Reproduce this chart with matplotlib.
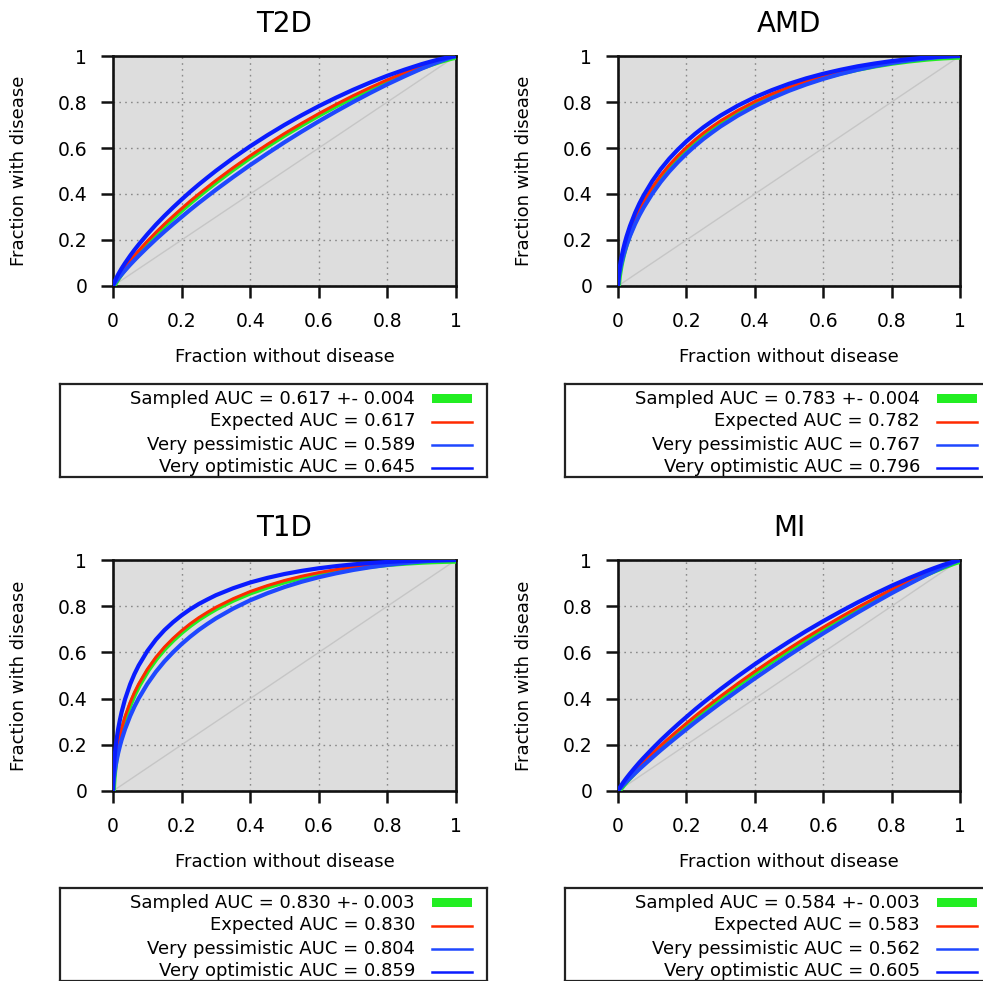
import matplotlib
matplotlib.use('Agg')
import matplotlib.pyplot as plt
from matplotlib import transforms

plt.rcParams['font.family'] = ['DejaVu Sans']

# ---- data ----
fpr = [0, 0.0005, 0.001, 0.002, 0.003, 0.005, 0.0075, 0.01, 0.015, 0.02, 0.025,
       0.035, 0.05, 0.0625, 0.075, 0.1, 0.125, 0.15, 0.175, 0.2, 0.225, 0.25, 0.275, 0.3,
       0.35, 0.4, 0.45, 0.5, 0.55, 0.6, 0.65, 0.7, 0.75, 0.8, 0.85, 0.9,
       0.925, 0.95, 0.98, 0.99, 1.0]

titles = ['T2D', 'AMD', 'T1D', 'MI']

t2d_pess = [0, 0.0015, 0.0028, 0.0052, 0.0076, 0.0120, 0.0173, 0.0223, 0.0322, 0.0413, 0.0505,
            0.0676, 0.0925, 0.1121, 0.1312, 0.1678, 0.2030, 0.2366, 0.2688, 0.3001, 0.3312, 0.3611, 0.3898, 0.4184,
            0.4733, 0.5259, 0.5761, 0.6248, 0.6713, 0.7160, 0.7589, 0.8001, 0.8393, 0.8770, 0.9119, 0.9452,
            0.9604, 0.9752, 0.9912, 0.9959, 1.0]
t2d_exp = [0, 0.0021, 0.0038, 0.0070, 0.0100, 0.0155, 0.0222, 0.0283, 0.0403, 0.0513, 0.0620,
           0.0820, 0.1103, 0.1328, 0.1539, 0.1947, 0.2329, 0.2691, 0.3034, 0.3365, 0.3690, 0.3997, 0.4294, 0.4586,
           0.5139, 0.5663, 0.6156, 0.6628, 0.7072, 0.7495, 0.7895, 0.8274, 0.8629, 0.8965, 0.9271, 0.9556,
           0.9684, 0.9805, 0.9933, 0.9970, 1.0]
t2d_opt = [0, 0.0029, 0.0052, 0.0094, 0.0132, 0.0202, 0.0284, 0.0359, 0.0503, 0.0633, 0.0760,
           0.0992, 0.1316, 0.1568, 0.1804, 0.2248, 0.2665, 0.3050, 0.3413, 0.3760, 0.4095, 0.4412, 0.4713, 0.5008,
           0.5560, 0.6076, 0.6554, 0.7005, 0.7425, 0.7820, 0.8187, 0.8531, 0.8849, 0.9143, 0.9406, 0.9647,
           0.9752, 0.9850, 0.9951, 0.9978, 1.0]

amd_pess = [0, 0.0120, 0.0199, 0.0325, 0.0431, 0.0612, 0.0806, 0.0976, 0.1276, 0.1532, 0.1767,
            0.2174, 0.2696, 0.3075, 0.3413, 0.4009, 0.4527, 0.4980, 0.5382, 0.5750, 0.6087, 0.6395, 0.6673, 0.6939,
            0.7406, 0.7817, 0.8172, 0.8487, 0.8761, 0.9004, 0.9215, 0.9400, 0.9559, 0.9695, 0.9805, 0.9896,
            0.9932, 0.9963, 0.9990, 0.9996, 1.0]
amd_exp = [0, 0.0143, 0.0234, 0.0378, 0.0500, 0.0701, 0.0918, 0.1103, 0.1428, 0.1703, 0.1955,
           0.2386, 0.2932, 0.3327, 0.3673, 0.4282, 0.4805, 0.5259, 0.5659, 0.6022, 0.6352, 0.6653, 0.6925, 0.7180,
           0.7629, 0.8018, 0.8350, 0.8646, 0.8899, 0.9121, 0.9312, 0.9479, 0.9619, 0.9740, 0.9836, 0.9914,
           0.9944, 0.9970, 0.9992, 0.9997, 1.0]
amd_opt = [0, 0.0171, 0.0276, 0.0439, 0.0576, 0.0800, 0.1039, 0.1240, 0.1589, 0.1886, 0.2152,
           0.2608, 0.3178, 0.3585, 0.3940, 0.4558, 0.5084, 0.5537, 0.5932, 0.6289, 0.6612, 0.6904, 0.7165, 0.7412,
           0.7839, 0.8207, 0.8517, 0.8792, 0.9027, 0.9228, 0.9399, 0.9550, 0.9673, 0.9779, 0.9863, 0.9929,
           0.9955, 0.9976, 0.9994, 0.9998, 1.0]

t1d_pess = [0, 0.0178, 0.0287, 0.0457, 0.0598, 0.0829, 0.1074, 0.1280, 0.1637, 0.1938, 0.2209,
            0.2670, 0.3246, 0.3656, 0.4013, 0.4633, 0.5160, 0.5612, 0.6005, 0.6361, 0.6680, 0.6971, 0.7230, 0.7473,
            0.7895, 0.8256, 0.8561, 0.8830, 0.9058, 0.9255, 0.9422, 0.9567, 0.9687, 0.9789, 0.9869, 0.9933,
            0.9957, 0.9977, 0.9994, 0.9998, 1.0]
t1d_exp = [0, 0.0262, 0.0410, 0.0631, 0.0809, 0.1099, 0.1396, 0.1643, 0.2060, 0.2404, 0.2707,
           0.3217, 0.3836, 0.4267, 0.4637, 0.5267, 0.5789, 0.6229, 0.6605, 0.6939, 0.7237, 0.7502, 0.7734, 0.7953,
           0.8322, 0.8635, 0.8891, 0.9113, 0.9297, 0.9454, 0.9584, 0.9695, 0.9784, 0.9858, 0.9914, 0.9957,
           0.9974, 0.9986, 0.9997, 0.9999, 1.0]
t1d_opt = [0, 0.0410, 0.0620, 0.0921, 0.1154, 0.1525, 0.1891, 0.2189, 0.2678, 0.3071, 0.3410,
           0.3967, 0.4622, 0.5064, 0.5438, 0.6056, 0.6554, 0.6964, 0.7306, 0.7605, 0.7866, 0.8095, 0.8291, 0.8476,
           0.8777, 0.9027, 0.9226, 0.9394, 0.9530, 0.9643, 0.9734, 0.9810, 0.9869, 0.9916, 0.9951, 0.9977,
           0.9986, 0.9993, 0.9998, 0.9999, 1.0]

mi_pess = [0, 0.0011, 0.0021, 0.0039, 0.0058, 0.0093, 0.0136, 0.0176, 0.0258, 0.0334, 0.0412,
           0.0558, 0.0772, 0.0947, 0.1114, 0.1444, 0.1767, 0.2075, 0.2377, 0.2673, 0.2969, 0.3253, 0.3532, 0.3809,
           0.4349, 0.4872, 0.5378, 0.5875, 0.6355, 0.6822, 0.7277, 0.7719, 0.8146, 0.8561, 0.8953, 0.9336,
           0.9514, 0.9690, 0.9885, 0.9945, 1.0]
mi_exp = [0, 0.0014, 0.0026, 0.0049, 0.0072, 0.0113, 0.0165, 0.0212, 0.0307, 0.0395, 0.0484,
          0.0649, 0.0888, 0.1083, 0.1265, 0.1623, 0.1971, 0.2300, 0.2620, 0.2929, 0.3237, 0.3531, 0.3817, 0.4102,
          0.4649, 0.5175, 0.5678, 0.6168, 0.6637, 0.7088, 0.7522, 0.7942, 0.8340, 0.8726, 0.9085, 0.9428,
          0.9586, 0.9739, 0.9906, 0.9956, 1.0]
mi_opt = [0, 0.0018, 0.0033, 0.0062, 0.0089, 0.0139, 0.0200, 0.0256, 0.0364, 0.0467, 0.0567,
          0.0755, 0.1022, 0.1237, 0.1437, 0.1825, 0.2197, 0.2546, 0.2883, 0.3206, 0.3525, 0.3829, 0.4122, 0.4412,
          0.4964, 0.5489, 0.5987, 0.6465, 0.6922, 0.7353, 0.7764, 0.8159, 0.8531, 0.8884, 0.9209, 0.9513,
          0.9652, 0.9784, 0.9925, 0.9966, 1.0]

pess_curves = [t2d_pess, amd_pess, t1d_pess, mi_pess]
exp_curves = [t2d_exp, amd_exp, t1d_exp, mi_exp]
opt_curves = [t2d_opt, amd_opt, t1d_opt, mi_opt]

sampled_auc = ['0.617 +- 0.004', '0.783 +- 0.004', '0.830 +- 0.003', '0.584 +- 0.003']
expected_auc = ['0.617', '0.782', '0.830', '0.583']
pess_auc = ['0.589', '0.767', '0.804', '0.562']
opt_auc = ['0.645', '0.796', '0.859', '0.605']

ticks = [0, 0.2, 0.4, 0.6, 0.8, 1.0]
tick_labels = ['0', '0.2', '0.4', '0.6', '0.8', '1']

# ---- styling / layout ----
W, H = 983, 981
DPI = 100
GREEN = '#22ee22'
RED = '#ff2a00'
BLUE_P = '#1f48ff'
BLUE_O = '#0a1cff'

fig = plt.figure(figsize=(W / DPI, H / DPI), dpi=DPI)
fig.patch.set_facecolor('white')


def rect(l, t, r, b):
    return [l / W, 1 - b / H, (r - l) / W, (b - t) / H]


panels = [(113, 56, 456, 286), (618, 56, 960, 286), (113, 560, 456, 791), (618, 560, 960, 791)]
legends = [(60, 384, 487, 477), (565, 384, 992, 477), (60, 888, 487, 981), (565, 888, 992, 981)]

for i in range(4):
    ax = fig.add_axes(rect(*panels[i]))
    ax.set_facecolor('#dddddd')
    ax.set_xlim(0, 1)
    ax.set_ylim(0, 1)
    ax.set_xticks(ticks)
    ax.set_yticks(ticks)
    ax.set_xticklabels(tick_labels)
    ax.set_yticklabels(tick_labels)
    ax.tick_params(direction='out', length=8.5, width=1.8, labelsize=13.5, pad=10, color='#111111')
    for s in ax.spines.values():
        s.set_linewidth(1.9)
        s.set_color('#111111')
    ax.grid(True, color='#8a8a8a', linestyle=(0, (1.2, 3.0)), linewidth=1.0)
    ax.set_axisbelow(True)
    ax.plot([0, 1], [0, 1], color='#c6c6c6', lw=1.0, zorder=2)

    off = ax.transData + transforms.ScaledTranslation(0.6 / DPI, -1.4 / DPI, fig.dpi_scale_trans)
    ax.plot(fpr, exp_curves[i], color=GREEN, lw=3.4, transform=off, zorder=3,
            solid_capstyle='round', solid_joinstyle='round')
    ax.plot(fpr, exp_curves[i], color=RED, lw=2.2, zorder=4,
            solid_capstyle='round', solid_joinstyle='round')
    ax.plot(fpr, pess_curves[i], color=BLUE_P, lw=3.0, zorder=5,
            solid_capstyle='round', solid_joinstyle='round')
    ax.plot(fpr, opt_curves[i], color=BLUE_O, lw=3.0, zorder=5,
            solid_capstyle='round', solid_joinstyle='round')

    ax.text(0.5, 1.104, titles[i], transform=ax.transAxes, ha='center', va='baseline', fontsize=20)
    ax.set_xlabel('Fraction without disease', fontsize=13, va='center')
    ax.xaxis.set_label_coords(0.5, -0.309)
    ax.set_ylabel('Fraction with disease', fontsize=13, va='center', ha='center')
    ax.yaxis.set_label_coords(-0.274, 0.5)

    # legend box
    l, t, r, b = legends[i]
    w, h = r - l, b - t
    lax = fig.add_axes(rect(l, t, r, b))
    lax.set_xlim(0, w)
    lax.set_ylim(h, 0)
    lax.set_xticks([])
    lax.set_yticks([])
    lax.set_facecolor('white')
    for s in lax.spines.values():
        s.set_linewidth(1.6)
        s.set_color('#222222')
    labels = ['Sampled AUC = ' + sampled_auc[i],
              'Expected AUC = ' + expected_auc[i],
              'Very pessimistic AUC = ' + pess_auc[i],
              'Very optimistic AUC = ' + opt_auc[i]]
    for k, lab in enumerate(labels):
        yy = 14.5 + 23 * k
        lax.text(w - 72, yy, lab, ha='right', va='center', fontsize=13)
    lax.fill_between([w - 55, w - 15], [14.5 - 4.5] * 2, [14.5 + 4.5] * 2, color=GREEN, lw=0)
    lax.plot([w - 55, w - 15], [37.5, 37.5], color=RED, lw=1.8)
    lax.plot([w - 55, w - 15], [60.5, 60.5], color=BLUE_P, lw=1.8)
    lax.plot([w - 55, w - 15], [83.5, 83.5], color=BLUE_O, lw=1.8)

fig.savefig('out.png', dpi=DPI)
